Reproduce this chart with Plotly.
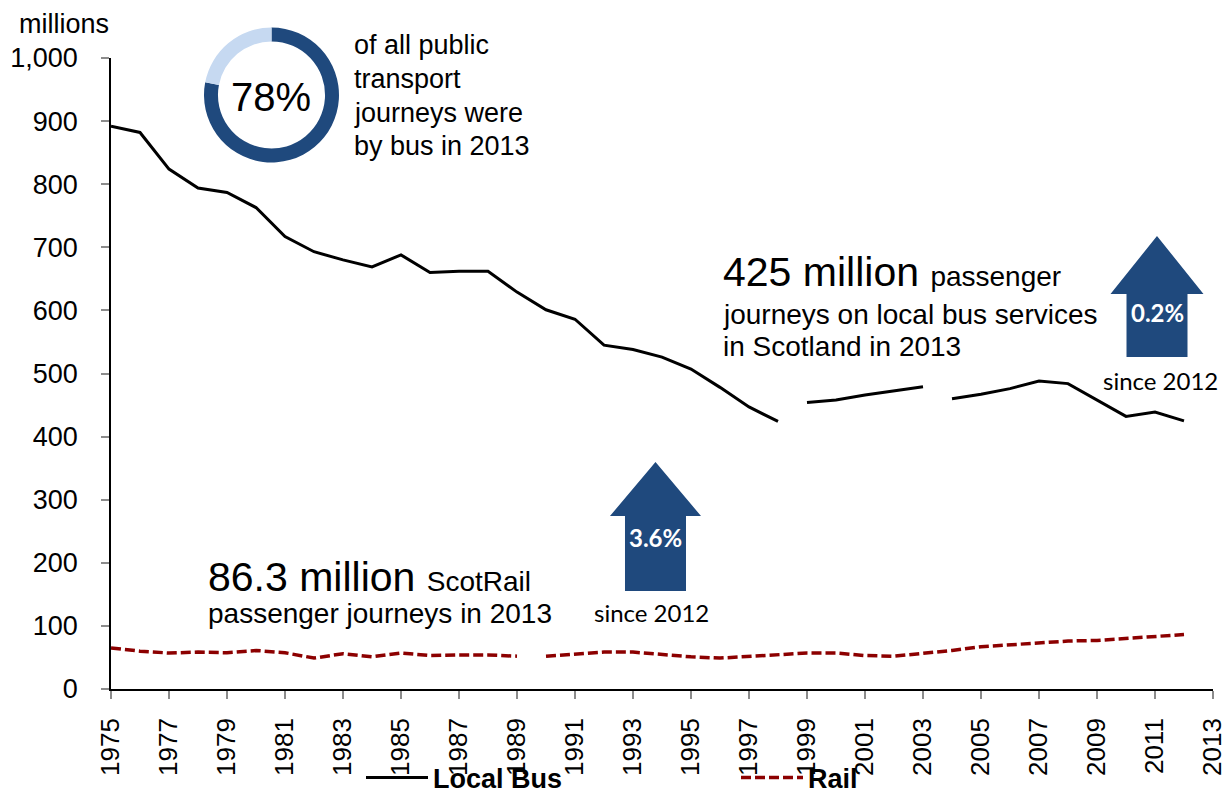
import plotly.graph_objects as go

# Passenger journeys (millions), Scotland
years = list(range(1975, 2013))
bus_journeys = [892, 882, 824, 794, 787, 763, 717, 693, 680, 669, 688, 660, 662, 662,
                629, 601, 586, 545, 538, 526, 507, 478, 447, 424,
                454, 458, 466, 473, 479,
                460, 467, 476, 488, 484, 458, 432, 439, 425]
rail_journeys = [65, 60, 57, 58.5, 57.5, 61, 57.5, 49, 56, 51, 57, 53, 54, 54, 52,
                 52, 55, 58.5, 58.5, 55, 51, 49, 52, 55, 57, 57, 53, 52, 56, 61, 67,
                 70, 73, 76, 77, 80, 83, 86.3]
# series breaks (no line drawn between this year and the next)
bus_breaks = [1998, 2003]
rail_breaks = [1989]

bus_share = [78, 22]          # % of public transport journeys by bus
bus_change = "0.2%"
rail_change = "3.6%"

y_ticks = list(range(0, 1001, 100))

W, H = 1223, 795
ML, MR, MT, MB = 111, 10, 20, 106
PW, PH = W - ML - MR, H - MT - MB
FONT = "Liberation Sans, Arial, sans-serif"
NAVY = "#1F497D"
LIGHT = "#C6D9F1"
RAIL = "#8C0000"


def px_x(x):
    return (x - ML) / PW


def px_y(y):
    return (H - MB - y) / PH


def with_breaks(xs, ys, breaks):
    ox, oy = [], []
    for x, y in zip(xs, ys):
        ox.append(x)
        oy.append(y)
        if x in breaks:
            ox.append(None)
            oy.append(None)
    return ox, oy


fig = go.Figure()

bx, by = with_breaks(years, bus_journeys, bus_breaks)
rx, ry = with_breaks(years, rail_journeys, rail_breaks)

fig.add_trace(go.Scatter(x=bx, y=by, mode="lines", name="Local Bus",
                         line=dict(color="black", width=3),
                         connectgaps=False, hoverinfo="skip"))
fig.add_trace(go.Scatter(x=rx, y=ry, mode="lines", name="Rail",
                         line=dict(color=RAIL, width=3.5, dash="10px,4px"),
                         connectgaps=False, hoverinfo="skip"))

# donut: share of journeys by bus
cx, cy, r = 271.5, 95, 67.5
fig.add_trace(go.Pie(values=bus_share, labels=["Bus", "Other"], hole=0.793,
                     sort=False, direction="clockwise", rotation=0,
                     marker=dict(colors=[NAVY, LIGHT], line=dict(width=0)),
                     textinfo="none", hoverinfo="skip", showlegend=False,
                     domain=dict(x=[px_x(cx - r), px_x(cx + r)],
                                 y=[px_y(cy + r), px_y(cy - r)])))


def arrow_path(xc, tip, head_base, bottom, head_w, shaft_w):
    pts = [(xc, tip), (xc + head_w / 2, head_base), (xc + shaft_w / 2, head_base),
           (xc + shaft_w / 2, bottom), (xc - shaft_w / 2, bottom),
           (xc - shaft_w / 2, head_base), (xc - head_w / 2, head_base)]
    return "M " + " L ".join(f"{px_x(a):.5f},{px_y(b):.5f}" for a, b in pts) + " Z"


shapes = [
    dict(type="path", xref="paper", yref="paper",
         path=arrow_path(655.5, 462, 516, 591, 91, 61),
         fillcolor=NAVY, line=dict(width=0)),
    dict(type="path", xref="paper", yref="paper",
         path=arrow_path(1157, 236, 294, 357, 93, 61),
         fillcolor=NAVY, line=dict(width=0)),
]

annotations = []


def note(text, x, y, size, xanchor="left", color="black", family=FONT, bold=False):
    annotations.append(dict(
        text=text, x=px_x(x), y=px_y(y), xref="paper", yref="paper",
        xanchor=xanchor, yanchor="middle", showarrow=False,
        font=dict(size=size, color=color, family=family,
                  weight="bold" if bold else "normal")))


note("millions", 17, 24, 27)
note(f"{bus_share[0]}%", 271, 97, 40, xanchor="center")
for i, line in enumerate(["of all public", "transport", "journeys were", "by bus in 2013"]):
    note(line, 352, 45 + i * 33.8, 27)

note("425 million <span style='font-size:28px'>passenger</span>", 721, 272, 41)
note("journeys on local bus services", 721, 314, 28)
note("in Scotland in 2013", 721, 346, 28)

note("86.3 million <span style='font-size:28px'>ScotRail</span>", 206, 577, 41)
note("passenger journeys in 2013", 206, 613, 28)

note(rail_change, 655.5, 537, 24, xanchor="center", color="white", family="Lato", bold=True)
note("since 2012", 651, 612, 24, xanchor="center", family="Lato")
note(bus_change, 1157, 312, 24, xanchor="center", color="white", family="Lato", bold=True)
note("since 2012", 1160, 380, 24, xanchor="center", family="Lato")

fig.update_layout(
    width=W, height=H,
    margin=dict(l=ML, r=MR, t=MT, b=MB, pad=0, autoexpand=False),
    paper_bgcolor="white", plot_bgcolor="white",
    font=dict(family=FONT, color="black", size=27),
    showlegend=True,
    legend=dict(orientation="h", x=px_x(361), y=px_y(778), xanchor="left", yanchor="middle",
                xref="paper", yref="paper", itemwidth=62, entrywidth=298,
                font=dict(size=27, weight="bold", color="black"),
                bgcolor="rgba(0,0,0,0)", traceorder="normal"),
    xaxis=dict(range=[1975, 2013], tick0=1975, dtick=2, tickangle=-90, automargin=False,
               showgrid=False, zeroline=False, showline=True, linecolor="black", linewidth=1.5,
               ticks="outside", ticklen=8, tickcolor="#8C8C8C", tickwidth=1.5,
               tickfont=dict(size=26), ticklabelstandoff=9, ticklabeloverflow="allow"),
    yaxis=dict(range=[0, 1000], tickvals=y_ticks, tickformat=",", domain=[0, px_y(58)],
               automargin=False,
               showgrid=False, zeroline=False, showline=True, linecolor="black", linewidth=1.5,
               ticks="outside", ticklen=8, tickcolor="#8C8C8C", tickwidth=1.5,
               tickfont=dict(size=27), ticklabelstandoff=18),
    shapes=shapes, annotations=annotations,
)

fig.write_html("out.html", include_plotlyjs=True, config=dict(displayModeBar=False, responsive=False))
